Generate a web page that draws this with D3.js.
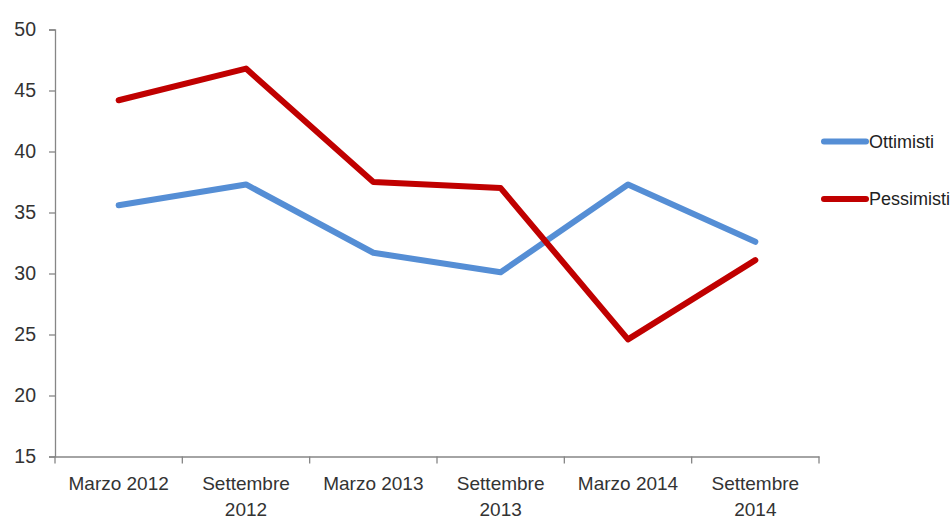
<!DOCTYPE html>
<html><head><meta charset="utf-8">
<script src="https://cdn.jsdelivr.net/npm/d3@7"></script>
<style>body{margin:0;background:#fff}svg{display:block}</style>
</head><body>
<svg id="c" width="952" height="519"></svg>
<script>
const categories = [["Marzo 2012"],["Settembre","2012"],["Marzo 2013"],["Settembre","2013"],["Marzo 2014"],["Settembre","2014"]];
const ottimisti = [35.6, 37.3, 31.7, 30.1, 37.3, 32.6];
const pessimisti = [44.2, 46.8, 37.5, 37.0, 24.6, 31.1];
const yTicks = [15, 20, 25, 30, 35, 40, 45, 50];
const seriesNames = ["Ottimisti", "Pessimisti"];
const seriesColors = ["#558ED5", "#C00000"];

(function(){
const svg = d3.select("#c");
const mLeft = 55, mRight = 819, mTop = 29.5, mBottom = 456.5;
const font = "'Liberation Sans', Arial, sans-serif";
const textColor = "#333333";

const x = d3.scaleBand().domain(d3.range(categories.length)).range([mLeft, mRight]);
const y = d3.scaleLinear().domain([15, 50]).range([mBottom, mTop]);

// Y axis
const ya = svg.append("g").attr("transform", `translate(${mLeft},0)`)
  .call(d3.axisLeft(y).tickValues(yTicks).tickSize(6).tickPadding(13));
ya.select(".domain").attr("stroke", "#868686").attr("stroke-width", 1.3);
ya.selectAll(".tick line").attr("stroke", "#868686").attr("stroke-width", 1.3);
ya.selectAll(".tick text").attr("font-family", font).attr("font-size", 19.5).attr("fill", textColor);

// X axis
const xa = svg.append("g").attr("transform", `translate(0,${mBottom})`)
  .call(d3.axisBottom(x).tickSize(0).tickFormat(""));
xa.select(".domain").attr("stroke", "#868686").attr("stroke-width", 1.3);
const bounds = d3.range(categories.length + 1).map(i => i < categories.length ? x(i) : x(categories.length - 1) + x.bandwidth());
svg.append("g").selectAll("line").data(bounds).join("line")
  .attr("x1", d => d).attr("x2", d => d).attr("y1", mBottom).attr("y2", mBottom + 7)
  .attr("stroke", "#868686").attr("stroke-width", 1.3);
const lab = svg.append("g").selectAll("text").data(categories).join("text")
  .attr("x", (d, i) => x(i) + x.bandwidth() / 2)
  .attr("y", 490)
  .attr("text-anchor", "middle")
  .attr("font-family", font).attr("font-size", 19).attr("fill", textColor);
lab.selectAll("tspan").data(d => d).join("tspan")
  .attr("x", function(){ return this.parentNode.getAttribute("x"); })
  .attr("dy", (d, i) => i === 0 ? 0 : 26)
  .text(d => d);

// Lines
const line = d3.line().x((d, i) => x(i) + x.bandwidth() / 2).y(d => y(d));
[ottimisti, pessimisti].forEach((s, k) => {
  svg.append("path").datum(s).attr("d", line)
    .attr("fill", "none").attr("stroke", seriesColors[k]).attr("stroke-width", 6)
    .attr("stroke-linejoin", "round").attr("stroke-linecap", "round");
});

// Legend
const legY = [141.5, 199];
seriesNames.forEach((n, k) => {
  svg.append("line").attr("x1", 824).attr("x2", 866).attr("y1", legY[k]).attr("y2", legY[k])
    .attr("stroke", seriesColors[k]).attr("stroke-width", 6).attr("stroke-linecap", "round");
  svg.append("text").attr("x", 869).attr("y", legY[k]).attr("dy", "0.35em")
    .attr("font-family", font).attr("font-size", 18).attr("fill", "#222").text(n);
});
})();
</script>
</body></html>
